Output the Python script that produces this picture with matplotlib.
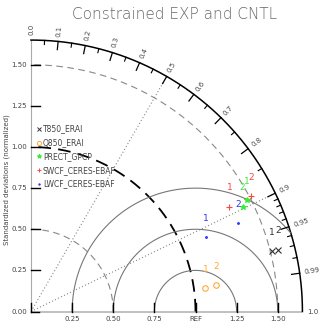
import numpy as np
import matplotlib
matplotlib.use("Agg")
import matplotlib.pyplot as plt
from matplotlib.lines import Line2D

# values (normalized std dev, correlation), cases 1 and 2
names = ["T850_ERAI", "Q850_ERAI", "PRECT_GPCP", "SWCF_CERES-EBAF", "LWCF_CERES-EBAF"]
colors = ["#333333", "#ffaa33", "#33ee33", "#ff4444", "#3333ff"]
markers = ["x", "o", "*", "+", "."]
std_case1 = [1.51, 1.07, 1.474, 1.364, 1.157]
std_case2 = [1.55, 1.135, 1.436, 1.511, 1.37]
cor_case1 = [0.970, 0.991, 0.889, 0.884, 0.920]
cor_case2 = [0.970, 0.990, 0.896, 0.885, 0.920]
case_labels = ["1", "2"]

rmax = 1.65
std_ticks = [0.25, 0.5, 0.75, 1.0, 1.25, 1.5]
std_ticklabels = ["0.25", "0.50", "0.75", "REF", "1.25", "1.50"]
cor_labels = [0.0, 0.1, 0.2, 0.3, 0.4, 0.5, 0.6, 0.7, 0.8, 0.9, 0.95, 0.99, 1.0]
cor_minor = [0.05, 0.15, 0.25, 0.35, 0.45, 0.55, 0.65, 0.75, 0.85,
             0.91, 0.92, 0.93, 0.94, 0.96, 0.97, 0.98]
cor_major = [0.1, 0.2, 0.3, 0.4, 0.5, 0.6, 0.7, 0.8, 0.9, 0.95, 0.99]
std_arcs = [0.5, 1.5]
rms_circles = [0.25, 0.5, 0.75]
cor_lines = [0.5, 0.9]

W, H, dpi = 320, 324, 100
ox, oy, scale = 31, 311.5, 164.5   # pixel of origin, pixels per unit

fig = plt.figure(figsize=(W / dpi, H / dpi), dpi=dpi)
ax = fig.add_axes([0, 0, 1, 1])
ax.set_xlim(-ox / scale, (W - ox) / scale)
ax.set_ylim(-(H - oy) / scale, oy / scale)
ax.set_aspect("equal")
ax.axis("off")

txt = "#444444"
th = np.linspace(0, np.pi / 2, 300)

# axes
ax.plot([0, rmax], [0, 0], color="#bbbbbb", lw=1.3, solid_capstyle="butt")
ax.plot([0, 0], [0, rmax], color="#aaaaaa", lw=0.8)
# outer arc
ax.plot(rmax * np.cos(th), rmax * np.sin(th), color="black", lw=1.1)

# std dev arcs
for r in std_arcs:
    ax.plot(r * np.cos(th), r * np.sin(th), color="#888888", lw=0.8, ls=(0, (6, 4)))
ax.plot(np.cos(th), np.sin(th), color="black", lw=1.3, ls=(0, (7, 4)))

# rms circles around REF
t = np.linspace(0, np.pi, 400)
for r in rms_circles:
    x = 1 + r * np.cos(t)
    y = r * np.sin(t)
    m = np.hypot(x, y) <= rmax
    ax.plot(np.where(m, x, np.nan), np.where(m, y, np.nan), color="#777777", lw=0.8)

# correlation lines
for c in cor_lines:
    a = np.arccos(c)
    ax.plot([0, rmax * np.cos(a)], [0, rmax * np.sin(a)], color="#888888", lw=0.8, ls=(0, (1, 2)))

# ticks on outer arc
for c in cor_major:
    a = np.arccos(c)
    ax.plot([rmax * np.cos(a), (rmax - 0.05) * np.cos(a)],
            [rmax * np.sin(a), (rmax - 0.05) * np.sin(a)], color="black", lw=0.9)
for c in cor_minor:
    a = np.arccos(c)
    ax.plot([rmax * np.cos(a), (rmax - 0.025) * np.cos(a)],
            [rmax * np.sin(a), (rmax - 0.025) * np.sin(a)], color="black", lw=0.8)
for c in cor_labels:
    a = np.arccos(c)
    ax.text(1.68 * np.cos(a), 1.68 * np.sin(a), f"{c:g}" if c not in (0.0, 1.0) else f"{c:.1f}",
            rotation=np.degrees(a), rotation_mode="anchor", ha="left", va="center",
            fontsize=5, color=txt)

# std ticks on axes
for v, lab in zip(std_ticks, std_ticklabels):
    ax.plot([v, v], [0, 0.05], color="black", lw=1.0)
    ax.text(v, -0.046, lab, ha="center", va="center", fontsize=5, color=txt)
    ax.plot([0, 0.055], [v, v], color="black", lw=1.0)
    ax.text(-0.025, v, f"{v:.2f}", ha="right", va="center", fontsize=5, color=txt)
ax.plot([0, 0.05], [0, 0], color="black", lw=1.0)
ax.plot([0, 0], [0, 0.05], color="black", lw=1.0)
ax.text(-0.025, 0, "0.00", ha="right", va="center", fontsize=5, color=txt)

ax.text(-0.145, 0.8, "Standardized deviations (normalized)", rotation=90,
        ha="center", va="center", fontsize=5, color=txt)

# data points
for i in range(len(names)):
    for s, c, lab in zip([std_case1[i], std_case2[i]], [cor_case1[i], cor_case2[i]], case_labels):
        a = np.arccos(c)
        x, y = s * np.cos(a), s * np.sin(a)
        ax.plot(x, y, marker=markers[i], color=colors[i], ms=4 if markers[i] != "." else 2.5,
                mfc="none" if markers[i] == "o" else colors[i], mew=0.8, ls="none")
        ax.annotate(lab, (x, y), xytext=(0, 13.5), textcoords="offset points",
                    ha="center", va="center", fontsize=6.5, color=colors[i])

# legend
handles = [Line2D([], [], marker=m, color=c, ls="none", ms=3 if m != "." else 2,
                  mfc="none" if m == "o" else c, mew=0.7)
           for m, c in zip(markers, colors)]
leg = ax.legend(handles, names, loc="upper left", bbox_to_anchor=(0.105, 0.625),
                frameon=False, fontsize=5.5, handlelength=0.6, handletextpad=0.2,
                labelspacing=0.62, borderaxespad=0)
for t_ in leg.get_texts():
    t_.set_color(txt)

fig.text(0.545, 0.955, "Constrained EXP and CNTL", ha="center", va="center",
         fontsize=11, color="#666666", fontweight="light")

fig.savefig("out.png", dpi=dpi)
